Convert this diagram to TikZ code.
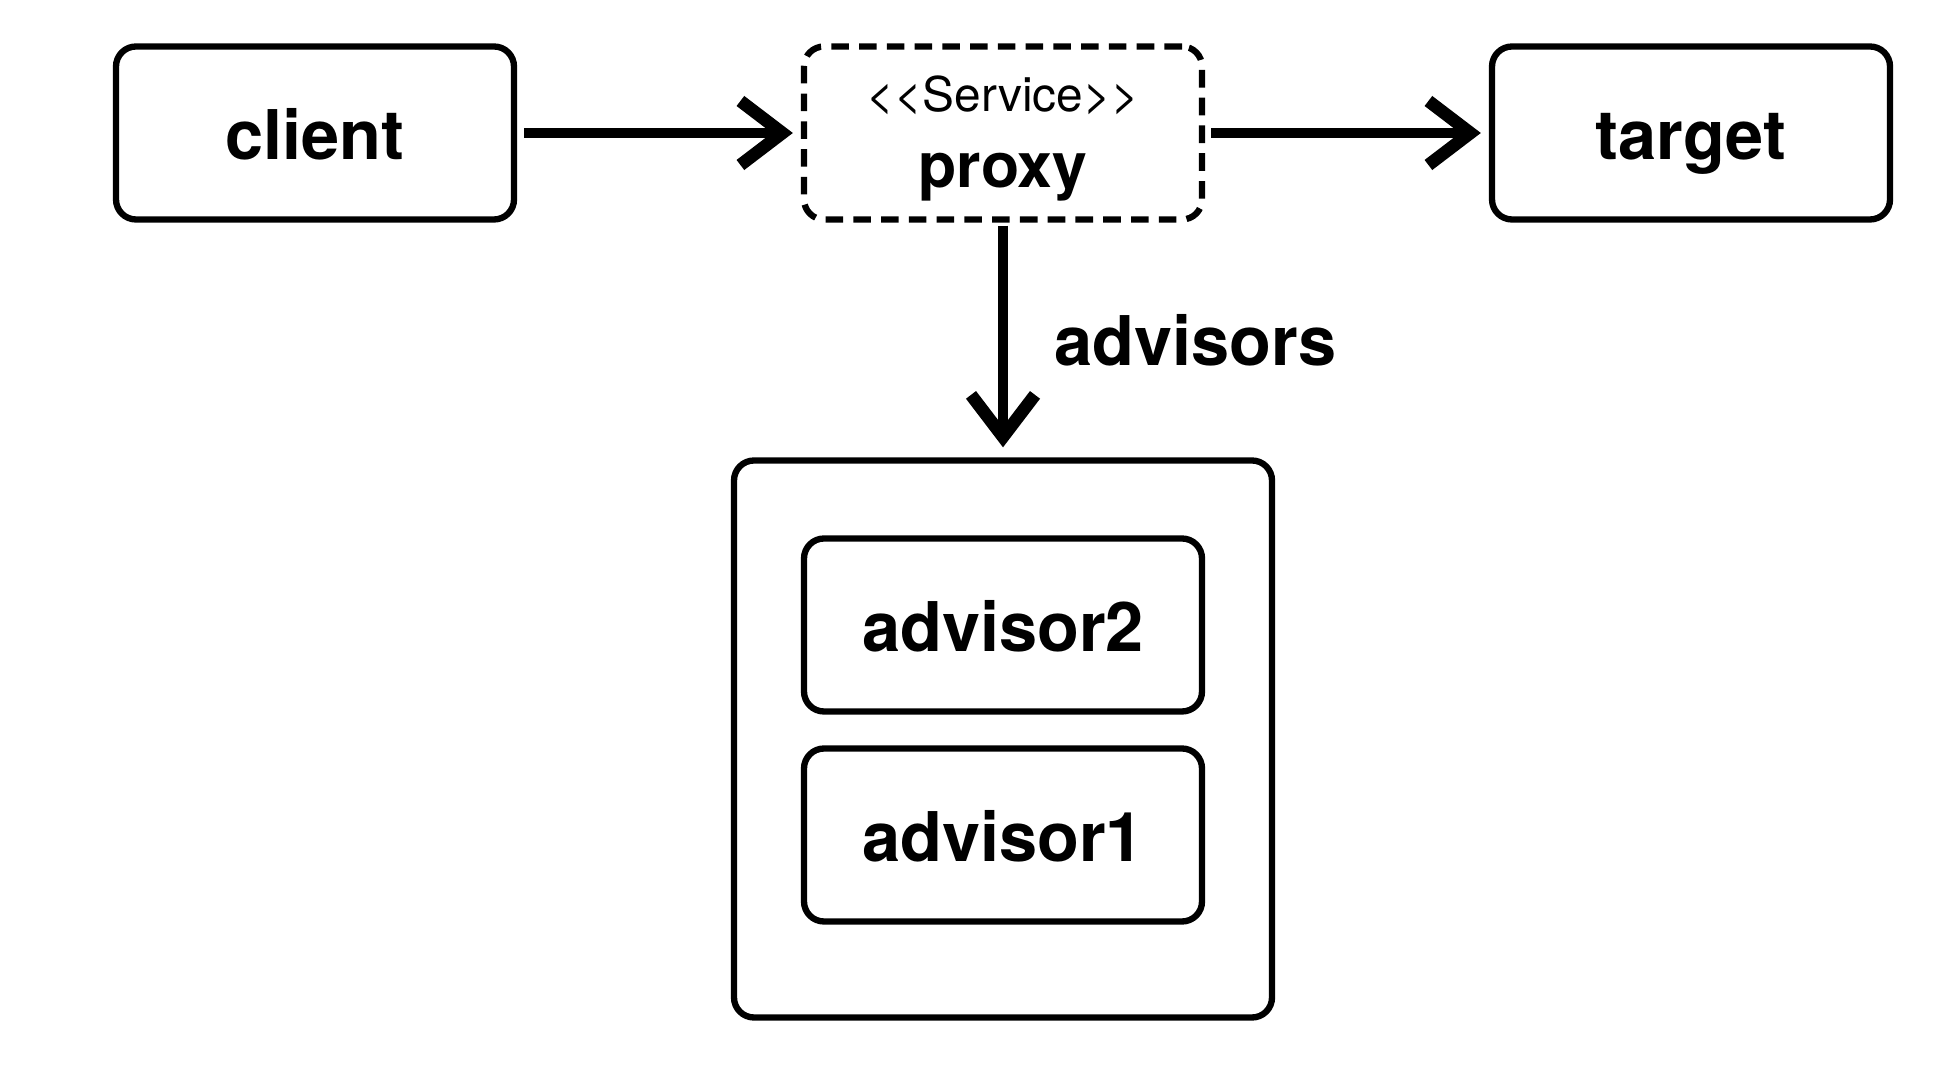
\documentclass[tikz,border=0pt]{standalone}
\usepackage{fontspec}
\setmainfont{TeX Gyre Heros}
\usetikzlibrary{arrows.meta,positioning}
\tikzset{
  box/.style={draw,line width=1.8pt,rounded corners=0.2cm,minimum width=3.98cm,
    minimum height=1.73cm,text height=20pt,text depth=5pt,
    font=\fontsize{19.5}{22}\selectfont\bfseries},
  proxybox/.style={box,dash pattern=on 5pt off 2.9pt},
  flow/.style={line width=2.8pt,
    -{Straight Barb[length=0.42cm,width=0.64cm,line width=3.6pt]}},
}

\begin{document}
\begin{tikzpicture}[x=1cm,y=1cm]
  \useasboundingbox (0,0) rectangle (19.58,10.80);
  \node[box] (client) at (3.15,9.47) {client};
  \node[proxybox] (proxy) at (10.03,9.47) {};
  \node[anchor=base,font=\fontsize{13.6}{15}\selectfont] (stereotype)
    at ([yshift=0.21cm]proxy.center) {<\kern0pt<Service>\kern0pt>};
  \node[anchor=base,font=\fontsize{17.8}{20}\selectfont\bfseries] (proxyname)
    at ([yshift=-0.55cm]proxy.center) {proxy};
  \node[box] (target) at (16.91,9.47) {target};
  \node[box,minimum width=5.38cm,minimum height=5.57cm] (chain) at (10.03,3.41) {};
  \node[box] (advisor2) at (10.03,4.55) {advisor2};
  \node[box] (advisor1) at (10.03,2.45) {advisor1};
  \draw[flow,shorten <=0.07cm,shorten >=0.08cm] (client) -- (proxy);
  \draw[flow,shorten <=0.06cm,shorten >=0.08cm] (proxy) -- (target);
  \draw[flow,shorten <=0.03cm,shorten >=0.1cm] (proxy) -- (chain);
  \node[font=\fontsize{19.5}{22}\selectfont\bfseries,anchor=west] (advlabel) at (10.42,7.40) {advisors};
\end{tikzpicture}
\end{document}
